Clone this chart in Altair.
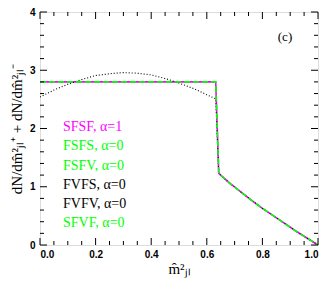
import altair as alt
import pandas as pd

# SFSF / FSFS / FSFV / SFVF (flat-top) distribution
x_flat = [0.0, 0.632, 0.643, 0.68, 0.72, 0.76, 0.80, 0.84, 0.88, 0.92, 0.96, 1.0]
y_flat = [2.80, 2.80, 1.23, 1.07, 0.92, 0.77, 0.63, 0.50, 0.37, 0.24, 0.12, 0.0]

# FVFS / FVFV (curved) distribution
x_curve = [0.0, 0.05, 0.10, 0.15, 0.20, 0.25, 0.30, 0.35, 0.40, 0.45, 0.50, 0.55, 0.60, 0.632,
           0.643, 0.68, 0.72, 0.76, 0.80, 0.84, 0.88, 0.92, 0.96, 1.0]
y_curve = [2.54, 2.66, 2.76, 2.84, 2.91, 2.94, 2.96, 2.95, 2.92, 2.86, 2.78, 2.69, 2.58, 2.51,
           1.23, 1.07, 0.92, 0.77, 0.63, 0.50, 0.37, 0.24, 0.12, 0.0]

legend_labels = ["SFSF,  α=1", "FSFS,  α=0", "FSFV,  α=0", "FVFS,  α=0", "FVFV,  α=0", "SFVF,  α=0"]
legend_colors = ["#ff00ff", "#00ff00", "#00ff00", "#000000", "#000000", "#00ff00"]

x_major = [0.0, 0.2, 0.4, 0.6, 0.8, 1.0]
x_minor = [0.05, 0.1, 0.15, 0.25, 0.3, 0.35, 0.45, 0.5, 0.55, 0.65, 0.7, 0.75, 0.85, 0.9, 0.95]
y_major = [0, 1, 2, 3, 4]
y_minor = [0.2, 0.4, 0.6, 0.8, 1.2, 1.4, 1.6, 1.8, 2.2, 2.4, 2.6, 2.8, 3.2, 3.4, 3.6, 3.8]

W, H = 278, 233

flat = pd.DataFrame({"x": x_flat, "y": y_flat})
curve = pd.DataFrame({"x": x_curve, "y": y_curve})

xs = alt.Scale(domain=[0, 1], nice=False)
ys = alt.Scale(domain=[0, 4], nice=False)

xaxis = alt.Axis(values=x_major, format=".1f", ticks=False, domain=False, grid=False,
                 labelFont="Liberation Sans", labelFontWeight="bold", labelFontSize=10,
                 labelColor="black", labelPadding=4,
                 title="m̂²ⱼₗ", titleFont="Liberation Serif", titleFontSize=15,
                 titleFontWeight="normal", titleColor="black", titlePadding=2)
yaxis = alt.Axis(values=y_major, format="d", ticks=False, domain=False, grid=False,
                 labelFont="Liberation Sans", labelFontWeight="bold", labelFontSize=10,
                 labelColor="black", labelPadding=5,
                 title="dN/dm̂²ⱼₗ⁺ + dN/dm̂²ⱼₗ⁻", titleFont="Liberation Serif", titleFontSize=15,
                 titleFontWeight="normal", titleColor="black", titlePadding=5)

base_flat = alt.Chart(flat).encode(
    x=alt.X("x:Q", scale=xs, axis=xaxis),
    y=alt.Y("y:Q", scale=ys, axis=yaxis),
    order="x:Q",
)
magenta = base_flat.mark_line(color="#ff00ff", strokeWidth=1.6, clip=True)
green = base_flat.mark_line(color="#00ff00", strokeWidth=1.6, strokeDash=[6, 3], clip=True)
dotted = alt.Chart(curve).mark_line(color="black", strokeWidth=1.1, strokeDash=[1, 2], clip=True).encode(
    x=alt.X("x:Q", scale=xs), y=alt.Y("y:Q", scale=ys), order="x:Q")

def xticks(vals, length):
    d = pd.DataFrame({"v": vals})
    bottom = alt.Chart(d).mark_rule(color="black", strokeWidth=1).encode(
        x=alt.X("v:Q", scale=xs), y=alt.value(H), y2=alt.value(H - length))
    top = alt.Chart(d).mark_rule(color="black", strokeWidth=1).encode(
        x=alt.X("v:Q", scale=xs), y=alt.value(0), y2=alt.value(length))
    return bottom + top

def yticks(vals, length):
    d = pd.DataFrame({"v": vals})
    left = alt.Chart(d).mark_rule(color="black", strokeWidth=1).encode(
        y=alt.Y("v:Q", scale=ys), x=alt.value(0), x2=alt.value(length))
    right = alt.Chart(d).mark_rule(color="black", strokeWidth=1).encode(
        y=alt.Y("v:Q", scale=ys), x=alt.value(W), x2=alt.value(W - length))
    return left + right

leg = pd.DataFrame({"label": legend_labels, "color": legend_colors})
legend = alt.Chart(leg).transform_window(
    idx="row_number()"
).transform_calculate(
    py="96 + 19.2 * datum.idx"
).mark_text(align="left", baseline="middle", font="Liberation Serif", fontSize=14).encode(
    x=alt.value(23),
    y=alt.Y("py:Q", scale=None),
    text="label:N",
    color=alt.Color("color:N", scale=None),
)

panel = alt.Chart(pd.DataFrame({"t": ["(c)"]})).mark_text(
    align="center", baseline="middle", font="Liberation Serif", fontSize=13, color="black"
).encode(x=alt.value(245), y=alt.value(25), text="t:N")

chart = alt.layer(
    magenta, dotted, green,
    xticks(x_major, 7), xticks(x_minor, 4), yticks(y_major, 7), yticks(y_minor, 4),
    legend, panel,
).properties(
    width=W, height=H,
    autosize=alt.AutoSizeParams(type="none"),
    padding={"left": 32, "top": 4, "right": 1, "bottom": 37},
).configure_view(stroke="black", strokeWidth=1.2).configure(background="white")

chart.save("out.html", embed_options={"renderer": "svg", "actions": False})
